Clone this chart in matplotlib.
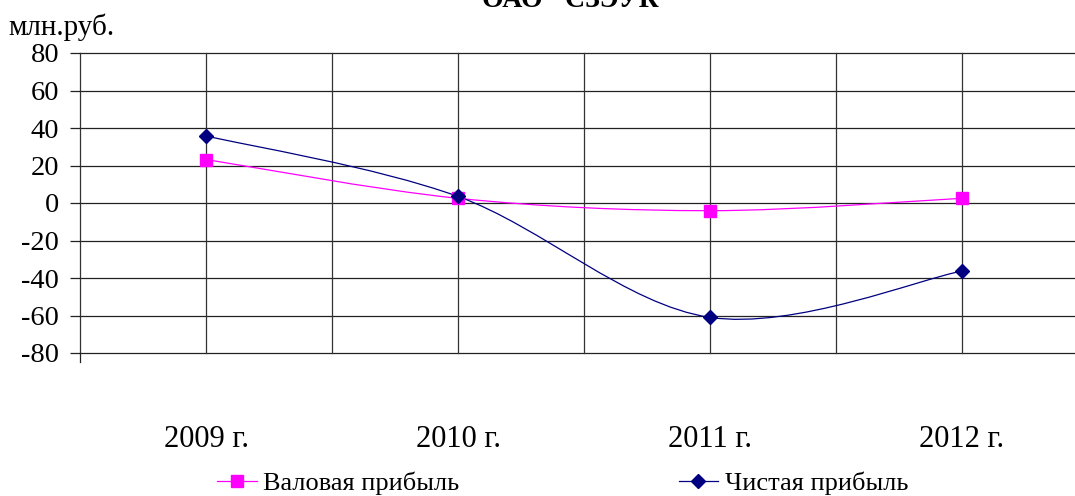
import numpy as np
import matplotlib
matplotlib.use('Agg')
import matplotlib.pyplot as plt
from matplotlib.path import Path
from matplotlib.patches import PathPatch
from matplotlib.lines import Line2D

years = ['2009 г.', '2010 г.', '2011 г.', '2012 г.']
gross = [23.2, 2.5, -4.1, 2.5]      # Валовая прибыль
net = [35.8, 3.5, -61.0, -36.3]     # Чистая прибыль
yticks = [-80, -60, -40, -20, 0, 20, 40, 60, 80]

plt.rcParams['font.family'] = ['Liberation Serif', 'DejaVu Serif']
plt.rcParams['axes.unicode_minus'] = False

W, H = 1075, 496
fig = plt.figure(figsize=(W / 100, H / 100), dpi=100)
ax = fig.add_axes([80 / W, (H - 353) / H, (1088 - 80) / W, 300 / H])


def smooth_path(xs, ys):
    # excel-style smoothing: catmull-rom converted to bezier segments
    pts = np.column_stack([xs, ys]).astype(float)
    ext = np.vstack([pts[0], pts, pts[-1]])
    verts = [pts[0]]
    codes = [Path.MOVETO]
    for i in range(len(pts) - 1):
        p0, p1, p2, p3 = ext[i], ext[i + 1], ext[i + 2], ext[i + 3]
        c1 = p1 + (p2 - p0) / 6
        c2 = p2 - (p3 - p1) / 6
        verts += [c1, c2, p2]
        codes += [Path.CURVE4] * 3
    return Path(verts, codes)


x = np.arange(len(years))
for vals, col, mk, ms in [(gross, '#FF00FF', 's', 8), (net, '#000080', 'D', 7.5)]:
    ax.add_patch(PathPatch(smooth_path(x, vals), fc='none', ec=col, lw=0.9, zorder=3))
    ax.plot(x, vals, ls='none', marker=mk, ms=ms, color=col, zorder=4)

ax.set_xlim(-0.5, 3.5)
ax.set_ylim(-80, 80)

for yv in yticks:
    ax.axhline(yv, color='#222222', lw=0.9, zorder=1, clip_on=False)
for xv in np.arange(-0.5, 3.6, 0.5):
    ax.axvline(xv, color='#333333', lw=0.9, zorder=1, clip_on=False)

for s in ax.spines.values():
    s.set_visible(False)
ax.add_line(Line2D([0, 0], [0, -0.03], transform=ax.transAxes, color='#222222',
                   lw=0.9, clip_on=False))

ax.set_yticks(yticks)
ax.set_yticklabels([str(v) for v in yticks], fontsize=20.5)
ax.tick_params(axis='y', length=7, width=0.9, color='#222222', pad=8)
ax.set_xticks(x)
ax.set_xticklabels(years, fontsize=22)
ax.tick_params(axis='x', length=0, pad=52)

fig.text(8 / W, 1 - 35 / H, 'млн.руб.', fontsize=21, ha='left', va='baseline')
fig.text(578 / W, 1 - 7 / H, 'ОАО "СЗЭУК"', fontsize=20, fontweight='bold',
         ha='center', va='baseline')

handles = [Line2D([], [], color='#FF00FF', marker='s', ms=8, lw=0.9),
           Line2D([], [], color='#000080', marker='D', ms=7.5, lw=0.9)]
fig.legend(handles, ['Валовая прибыль', 'Чистая прибыль'], ncol=2, frameon=False,
           fontsize=19, loc='center left', bbox_to_anchor=(204 / W, 1 - 483 / H),
           handlelength=1.5, handletextpad=0.25, columnspacing=8.3, borderpad=0)

fig.savefig('out.png', dpi=100)
